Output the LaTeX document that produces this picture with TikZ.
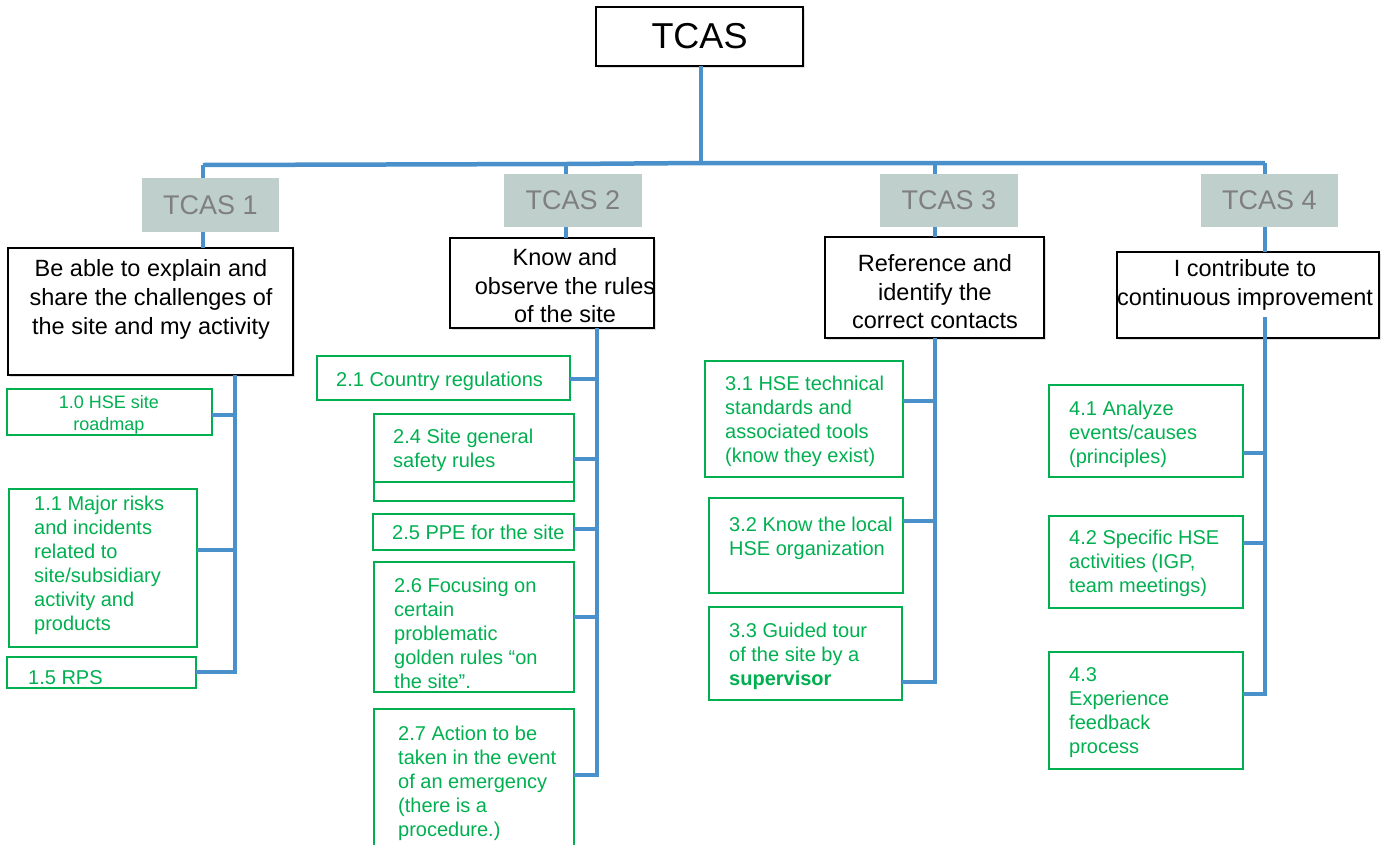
\documentclass[tikz,border=0pt]{standalone}
\usepackage{fontspec}
\setsansfont{Liberation Sans}
\usetikzlibrary{shadows}
\definecolor{busblue}{RGB}{74,144,202}
\definecolor{itemgreen}{RGB}{0,176,80}
\definecolor{tcasgrey}{RGB}{191,208,204}
\definecolor{tcastext}{RGB}{127,127,127}
\begin{document}
\begin{tikzpicture}[
    x=1pt, y=-1pt,
    every node/.style={font=\sffamily},
    bus/.style={draw=busblue, line width=4.5pt},
    topbox/.style={draw, line width=1.6pt, fill=white, anchor=north west, inner sep=0pt, outer sep=0pt,
      drop shadow={shadow xshift=1.5pt, shadow yshift=-1.5pt, opacity=.25},
      font=\sffamily\fontsize{36pt}{40pt}\selectfont},
    tcasbox/.style={fill=tcasgrey, text=tcastext, anchor=north west, inner sep=0pt, outer sep=0pt,
      font=\sffamily\fontsize{27pt}{30pt}\selectfont},
    goalbox/.style={draw, line width=1.6pt, fill=white, anchor=north west, inner sep=0pt, outer sep=0pt,
      drop shadow={shadow xshift=1.5pt, shadow yshift=-1.5pt, opacity=.25}},
    goaltext/.style={font=\sffamily\fontsize{23.5pt}{28.5pt}\selectfont, align=center, inner sep=0pt, anchor=north},
    item/.style={draw=itemgreen, line width=1.5pt, anchor=north west, inner sep=0pt, outer sep=0pt},
    itemtext/.style={font=\sffamily\fontsize{20pt}{24pt}\selectfont, text=itemgreen, align=left,
      inner sep=0pt, anchor=north west}
  ]
  \useasboundingbox (0,0) rectangle (1393,844);

  % top of the tree
  \node[topbox, minimum width=207pt, minimum height=59pt] (t0) at (596,7) {TCAS};

  \node[tcasbox, minimum width=137pt, minimum height=54pt] (g1) at (142,178) {TCAS 1};
  \node[tcasbox, minimum width=138pt, minimum height=53pt] (g2) at (504,174) {TCAS 2};
  \node[tcasbox, minimum width=138pt, minimum height=53pt] (g3) at (880,174) {TCAS 3};
  \node[tcasbox, minimum width=137pt, minimum height=53pt] (g4) at (1201,174) {TCAS 4};

  \node[goalbox, minimum width=285pt, minimum height=127pt] (b1) at (8,248) {};
  \node[goaltext, font=\sffamily\fontsize{23.5pt}{29pt}\selectfont] (tb1) at (151,259.6)
    {Be able to explain and\\share the challenges of\\the site and my activity};
  \node[goalbox, minimum width=204pt, minimum height=90pt] (b2) at (450,238) {};
  \node[goaltext] (tb2) at (565,248.6) {Know and\\observe the rules\\of the site};
  \node[goalbox, minimum width=219pt, minimum height=101pt] (b3) at (825,237) {};
  \node[goaltext] (tb3) at (935,254.6) {Reference and\\identify the\\correct contacts};
  \node[goalbox, minimum width=262pt, minimum height=86pt] (b4) at (1117,252) {};
  \node[goaltext] (tb4) at (1245,259.6) {I contribute to\\continuous improvement};

  % TCAS 1 items
  \node[item, minimum width=205pt, minimum height=46pt] (i10) at (7,389) {};
  \node[itemtext, anchor=north, align=center, font=\sffamily\fontsize{18pt}{22pt}\selectfont] (t10)
    at (109,395.5) {1.0 HSE site\\roadmap};
  \node[item, minimum width=188pt, minimum height=158pt] (i11) at (9,489) {};
  \node[itemtext] (t11) at (34,495.7)
    {1.1 Major risks\\and incidents\\related to\\site/subsidiary\\activity and\\products};
  \node[item, minimum width=189pt, minimum height=31pt] (i15) at (7,657) {};
  \node[itemtext] (t15) at (28,670.7) {1.5 RPS};

  % TCAS 2 items
  \node[item, minimum width=253pt, minimum height=44pt] (i21) at (317,356) {};
  \node[itemtext] (t21) at (336,371.7) {2.1 Country regulations};
  \node[item, minimum width=200pt, minimum height=87pt] (i24) at (374,414) {};
  \draw[draw=itemgreen, line width=1.5pt] ([yshift=19pt]i24.south west) -- ([yshift=19pt]i24.south east);
  \node[itemtext] (t24) at (393,429) {2.4 Site general\\safety rules};
  \node[item, minimum width=201pt, minimum height=36pt] (i25) at (373,514) {};
  \node[itemtext] (t25) at (392,524.7) {2.5 PPE for the site};
  \node[item, minimum width=200pt, minimum height=130pt] (i26) at (374,562) {};
  \node[itemtext] (t26) at (394,577.7)
    {2.6 Focusing on\\certain\\problematic\\golden rules “on\\the site”.};
  \node[item, minimum width=200pt, minimum height=161pt] (i27) at (374,709) {};
  \node[itemtext] (t27) at (398,725.7)
    {2.7 Action to be\\taken in the event\\of an emergency\\(there is a\\procedure.)};

  % TCAS 3 items
  \node[item, minimum width=198pt, minimum height=116pt] (i31) at (705,361) {};
  \node[itemtext] (t31) at (725,375.7)
    {3.1 HSE technical\\standards and\\associated tools\\(know they exist)};
  \node[item, minimum width=194pt, minimum height=95pt] (i32) at (709,498) {};
  \node[itemtext] (t32) at (729,516.7) {3.2 Know the local\\HSE organization};
  \node[item, minimum width=193pt, minimum height=93pt] (i33) at (709,607) {};
  \node[itemtext] (t33) at (729,622.7) {3.3 Guided tour\\of the site by a\\\textbf{supervisor}};

  % TCAS 4 items
  \node[item, minimum width=194pt, minimum height=92pt] (i41) at (1049,385) {};
  \node[itemtext] (t41) at (1069,400.7) {4.1 Analyze\\events/causes\\(principles)};
  \node[item, minimum width=194pt, minimum height=92pt] (i42) at (1049,516) {};
  \node[itemtext] (t42) at (1069,529.7) {4.2 Specific HSE\\activities (IGP,\\team meetings)};
  \node[item, minimum width=194pt, minimum height=117pt] (i43) at (1049,652) {};
  \node[itemtext] (t43) at (1069,667.7) {4.3\\Experience\\feedback\\process};

  % connectors
  \coordinate (hc) at (701,163);
  \coordinate (h1) at (203,165);
  \coordinate (h2) at (566,164);
  \coordinate (h3) at (935,163);
  \coordinate (h4) at (1265,163);
  \coordinate (s1) at (235,672);
  \coordinate (s2) at (597,775);
  \coordinate (s3) at (935,682);
  \coordinate (s4) at (1265,694);
  \coordinate (s4top) at (1265,317);
  \coordinate (j10) at (235,415);
  \coordinate (j11) at (235,550);
  \coordinate (j21) at (597,379);
  \coordinate (j24) at (597,459);
  \coordinate (j25) at (597,529);
  \coordinate (j26) at (597,617);
  \coordinate (j31) at (935,401);
  \coordinate (j32) at (935,521);
  \coordinate (j41) at (1265,453);
  \coordinate (j42) at (1265,543);

  \draw[bus] (t0.south -| hc) -- (hc);
  \draw[bus] (h1) -- (h2) -- (hc) -- (h3) -- (h4);
  \foreach \h/\g/\b in {h1/g1/b1, h2/g2/b2, h3/g3/b3, h4/g4/b4} {
    \draw[bus] (\h) -- (\h |- \g.north);
    \draw[bus] (\h |- \g.south) -- (\h |- \b.north);
  }

  \draw[bus] (s1 |- b1.south) -- (s1) -- (s1 -| i15.east);
  \draw[bus] (s2 |- b2.south) -- (s2) -- (s2 -| i27.east);
  \draw[bus] (s3 |- b3.south) -- (s3) -- (s3 -| i33.east);
  \draw[bus] (s4top) -- (s4) -- (s4 -| i43.east);
  \foreach \j/\i in {j10/i10, j11/i11, j21/i21, j24/i24, j25/i25, j26/i26, j31/i31, j32/i32, j41/i41, j42/i42}
    \draw[bus] (\j -| \i.east) -- (\j);
\end{tikzpicture}
\end{document}
